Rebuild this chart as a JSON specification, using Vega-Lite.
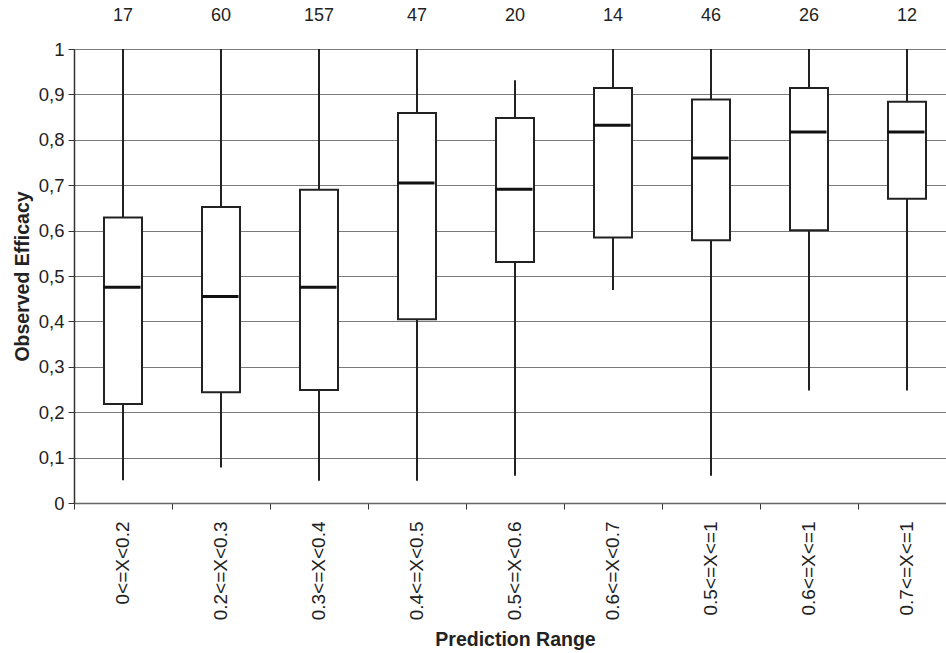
{
  "$schema": "https://vega.github.io/schema/vega-lite/v6.json",
  "autosize": {"type": "none"},
  "padding": {"left": 74, "top": 49, "right": 0, "bottom": 150},
  "width": 872,
  "height": 454,
  "background": "white",
  "config": {
    "font": "Liberation Sans",
    "view": {"stroke": null},
    "axis": {"labelFont": "Liberation Sans", "titleFont": "Liberation Sans"}
  },
  "data": {
    "values": [
      {"range": "0<=X<0.2", "lower": 0.05, "q1": 0.218, "median": 0.475, "q3": 0.629, "upper": 1.0, "n": 17},
      {"range": "0.2<=X<0.3", "lower": 0.078, "q1": 0.244, "median": 0.455, "q3": 0.652, "upper": 1.0, "n": 60},
      {"range": "0.3<=X<0.4", "lower": 0.049, "q1": 0.249, "median": 0.475, "q3": 0.69, "upper": 1.0, "n": 157},
      {"range": "0.4<=X<0.5", "lower": 0.049, "q1": 0.405, "median": 0.705, "q3": 0.859, "upper": 1.0, "n": 47},
      {"range": "0.5<=X<0.6", "lower": 0.06, "q1": 0.531, "median": 0.691, "q3": 0.848, "upper": 0.931, "n": 20},
      {"range": "0.6<=X<0.7", "lower": 0.469, "q1": 0.585, "median": 0.832, "q3": 0.914, "upper": 1.0, "n": 14},
      {"range": "0.5<=X<=1", "lower": 0.06, "q1": 0.579, "median": 0.76, "q3": 0.889, "upper": 1.0, "n": 46},
      {"range": "0.6<=X<=1", "lower": 0.248, "q1": 0.601, "median": 0.817, "q3": 0.914, "upper": 1.0, "n": 26},
      {"range": "0.7<=X<=1", "lower": 0.248, "q1": 0.67, "median": 0.817, "q3": 0.884, "upper": 1.0, "n": 12}
    ]
  },
  "encoding": {
    "x": {
      "field": "range",
      "type": "nominal",
      "sort": null,
      "scale": {"range": [0, 882], "paddingInner": 0, "paddingOuter": 0},
      "axis": {
        "title": "Prediction Range",
        "titleFontSize": 19.5,
        "titleFontWeight": "bold",
        "titleColor": "#222222",
        "titlePadding": 11,
        "labelAngle": -90,
        "labelFontSize": 19,
        "labelColor": "#222222",
        "labelPadding": 12,
        "bandPosition": 0,
        "tickSize": 6,
        "tickColor": "#333333",
        "tickWidth": 1,
        "domainColor": "#666666",
        "domainWidth": 1.5,
        "grid": false
      }
    }
  },
  "layer": [
    {
      "mark": {"type": "rule", "color": "#222222", "strokeWidth": 2, "opacity": 1},
      "encoding": {
        "y": {
          "field": "lower",
          "type": "quantitative",
          "scale": {"domain": [0, 1], "nice": false},
          "axis": {
            "title": "Observed Efficacy",
            "titleFontSize": 19.5,
            "titleFontWeight": "bold",
            "titleColor": "#222222",
            "titlePadding": 6,
            "values": [0, 0.1, 0.2, 0.3, 0.4, 0.5, 0.6, 0.7, 0.8, 0.9, 1],
            "labelExpr": "replace(format(datum.value, '.1~f'), '.', ',')",
            "labelFontSize": 18.5,
            "labelColor": "#222222",
            "labelPadding": 4,
            "tickSize": 6,
            "tickColor": "#333333",
            "domainColor": "#333333",
            "domainWidth": 1.5,
            "grid": true,
            "gridColor": "#7a7a7a",
            "gridWidth": 1.2
          }
        },
        "y2": {"field": "upper"}
      }
    },
    {
      "mark": {"type": "bar", "size": 38, "fill": "white", "stroke": "#222222", "strokeWidth": 2, "opacity": 1},
      "encoding": {
        "y": {"field": "q1", "type": "quantitative"},
        "y2": {"field": "q3"}
      }
    },
    {
      "mark": {"type": "tick", "color": "#111111", "thickness": 3, "size": 37, "orient": "horizontal", "opacity": 1, "xOffset": -1},
      "encoding": {
        "y": {"field": "median", "type": "quantitative"}
      }
    },
    {
      "mark": {"type": "text", "fontSize": 18, "color": "#222222", "dy": -33, "baseline": "middle"},
      "encoding": {
        "y": {"datum": 1},
        "text": {"field": "n", "type": "quantitative"}
      }
    }
  ]
}
